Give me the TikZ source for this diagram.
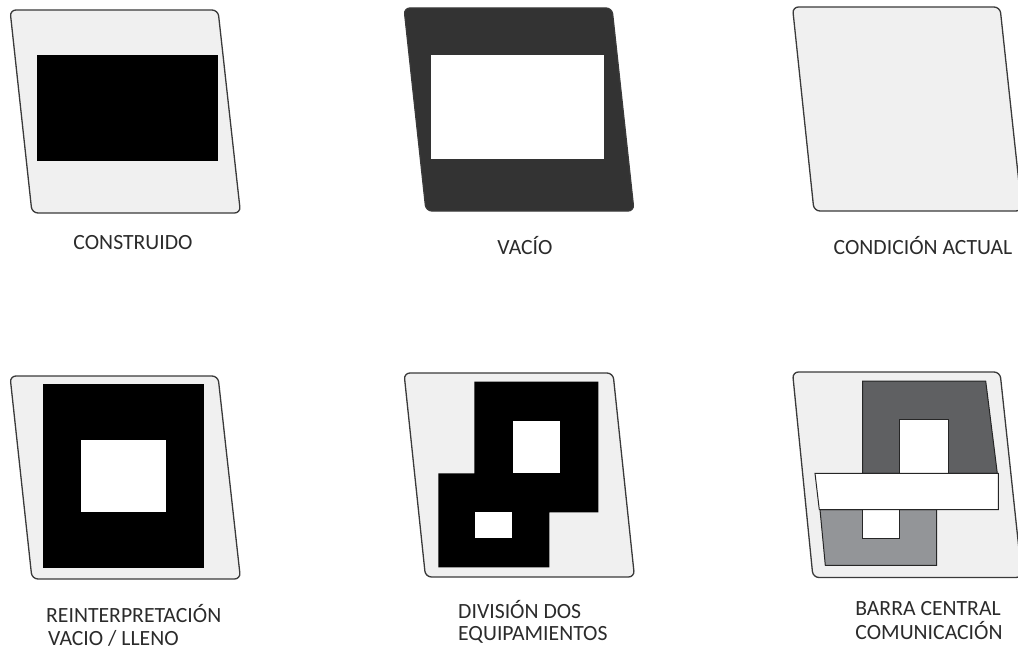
\documentclass[tikz,border=0pt]{standalone}
\usepackage{fontspec}
\setmainfont{Carlito}
\definecolor{panelgrey}{HTML}{F0F0F0}
\definecolor{panelline}{HTML}{3A3A3A}
\definecolor{darkpanel}{HTML}{333333}
\definecolor{midgrey}{HTML}{5F6062}
\definecolor{lightgrey}{HTML}{939598}
\definecolor{labeltext}{HTML}{2B2B2B}
\tikzset{
  x=1pt,y=-1pt,
  panel/.style={draw=panelline,line width=1.3pt,fill=panelgrey,rounded corners=6pt},
  solidblack/.style={fill=black,draw=none},
  hole/.style={fill=white,draw=none},
  outlined/.style={draw=black!85,line width=1pt},
  caption/.style={font=\fontsize{21.7}{26}\selectfont,text=labeltext,inner sep=0pt,anchor=base},
  captionleft/.style={caption,anchor=base west},
}
\begin{document}
\begin{tikzpicture}
\useasboundingbox (0,0) rectangle (1018,650);
\clip (0,0) rectangle (1018,650);
% top row
\draw[panel] (10,10) -- (218,10) -- (240.5,213) -- (32,213) -- cycle;
\fill[solidblack] (37,55.5) rectangle (218,161);
\node[caption] (constr) at (133,249.5) {CONSTRUIDO};

\draw[panel,fill=darkpanel] (404,8) -- (612,8) -- (634,211) -- (426,211) -- cycle;
\fill[hole] (431,55) rectangle (604,159);
\node[caption] (vacio) at (525,254) {VACÍO};

\draw[panel] (792.5,7) -- (1000,7) -- (1022,211) -- (814,211) -- cycle;
\node[caption] (actual) at (923,254) {CONDICIÓN ACTUAL};

% bottom row
\draw[panel] (10,376) -- (218,376) -- (240.5,579) -- (32,579) -- cycle;
\fill[solidblack] (43,384) rectangle (204,568);
\fill[hole] (81,440) rectangle (166,512);
\node[captionleft] (reint) at (46,622) {REINTERPRETACIÓN};
\node[captionleft] (lleno) at (48,645) {VACIO / LLENO};

\draw[panel] (404,373) -- (613,373) -- (634.5,577) -- (425.5,577) -- cycle;
\fill[solidblack] (474.3,381.7) -- (598.3,381.7) -- (598.3,512.3) -- (549.3,512.3) -- (549.3,567.3) -- (438.3,567.3) -- (438.3,473.3) -- (474.3,473.3) -- cycle;
\fill[hole] (513.3,420.7) rectangle (559.7,473.3);
\fill[hole] (475.3,512.3) rectangle (511.7,537.7);
\node[captionleft] (div) at (458,618) {DIVISIÓN DOS};
\node[captionleft] (equip) at (458,640) {EQUIPAMIENTOS};

\draw[panel] (792.5,372) -- (1000,372) -- (1022,577.5) -- (813,577.5) -- cycle;
\draw[outlined,fill=midgrey] (862.7,381) -- (985.7,381) -- (997.3,473.3) -- (862.7,473.3) -- cycle;
\draw[outlined,fill=white] (899,419) rectangle (948.3,473.3);
\draw[outlined,fill=lightgrey] (820,509.7) -- (936.7,509.7) -- (936.7,565.3) -- (825.3,565.3) -- cycle;
\draw[outlined,fill=white] (862.7,509.7) rectangle (899,538.3);
\draw[outlined,fill=white] (815,473.3) -- (998.3,473.3) -- (998.3,509.7) -- (819.3,509.7) -- cycle;
\node[caption] (barra) at (928,615) {BARRA CENTRAL};
\node[caption] (comun) at (929,639) {COMUNICACIÓN};
\end{tikzpicture}
\end{document}
